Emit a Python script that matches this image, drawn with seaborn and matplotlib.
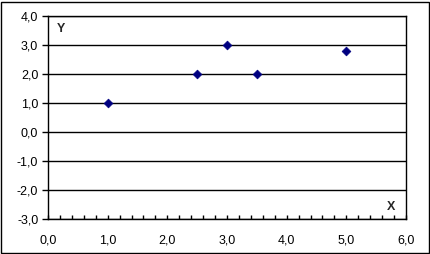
import matplotlib
matplotlib.use("Agg")
import matplotlib.pyplot as plt
import seaborn as sns
import pandas as pd
import numpy as np
from matplotlib.ticker import FixedLocator, MultipleLocator, FuncFormatter
from matplotlib.patches import Rectangle

x_vals = [1.0, 2.5, 3.0, 3.5, 5.0]
y_vals = [1.0, 2.0, 3.0, 2.0, 2.8]
x_ticks = [0, 1, 2, 3, 4, 5, 6]
y_ticks = [-3, -2, -1, 0, 1, 2, 3, 4]

sns.set_theme(style="white")
plt.rcParams['font.family'] = ['Liberation Sans', 'DejaVu Sans']

df = pd.DataFrame({"X": x_vals, "Y": y_vals})

fig = plt.figure(figsize=(4.31, 2.54), dpi=100)
fig.patch.set_facecolor("white")
W, H = 431, 254
left, right, top, bottom = 48, 406, 16, 219
ax = fig.add_axes([left / W, 1 - bottom / H, (right - left) / W, (bottom - top) / H])

sns.scatterplot(data=df, x="X", y="Y", ax=ax, marker="D", s=20,
                color="#000080", edgecolor="#000080", linewidth=0.5, zorder=5)

ax.set_xlim(0, 6)
ax.set_ylim(-3, 4)
ax.xaxis.set_major_locator(FixedLocator(x_ticks))
ax.yaxis.set_major_locator(FixedLocator(y_ticks))
ax.xaxis.set_minor_locator(MultipleLocator(0.2))
fmt = FuncFormatter(lambda v, p: f"{v:.1f}".replace(".", ","))
ax.xaxis.set_major_formatter(fmt)
ax.yaxis.set_major_formatter(fmt)

ax.grid(True, axis="y", color="black", linewidth=1.0)
ax.set_axisbelow(True)
for s in ["left", "bottom", "right", "top"]:
    ax.spines[s].set_visible(True)
    ax.spines[s].set_color("black")
    ax.spines[s].set_linewidth(1.0)

ax.tick_params(axis="x", which="both", direction="in", bottom=True, length=3,
               width=1, color="black", labelsize=9, pad=11, labelcolor="black")
ax.tick_params(axis="y", which="major", direction="out", left=True, length=4,
               width=1, color="black", labelsize=9, pad=3, labelcolor="black")
ax.set_xlabel("")
ax.set_ylabel("")

ax.text(0.14, 3.55, "Y", fontsize=9, fontweight="bold", ha="left", va="center")
ax.text(5.68, -2.6, "X", fontsize=9, fontweight="bold", ha="left", va="center")

fig.add_artist(Rectangle((1.5 / W, 1 - 252.5 / H), 427.5 / W, 251 / H,
                         transform=fig.transFigure, fill=False,
                         edgecolor="black", linewidth=1.0))

fig.savefig("out.png", dpi=100, facecolor="white")
